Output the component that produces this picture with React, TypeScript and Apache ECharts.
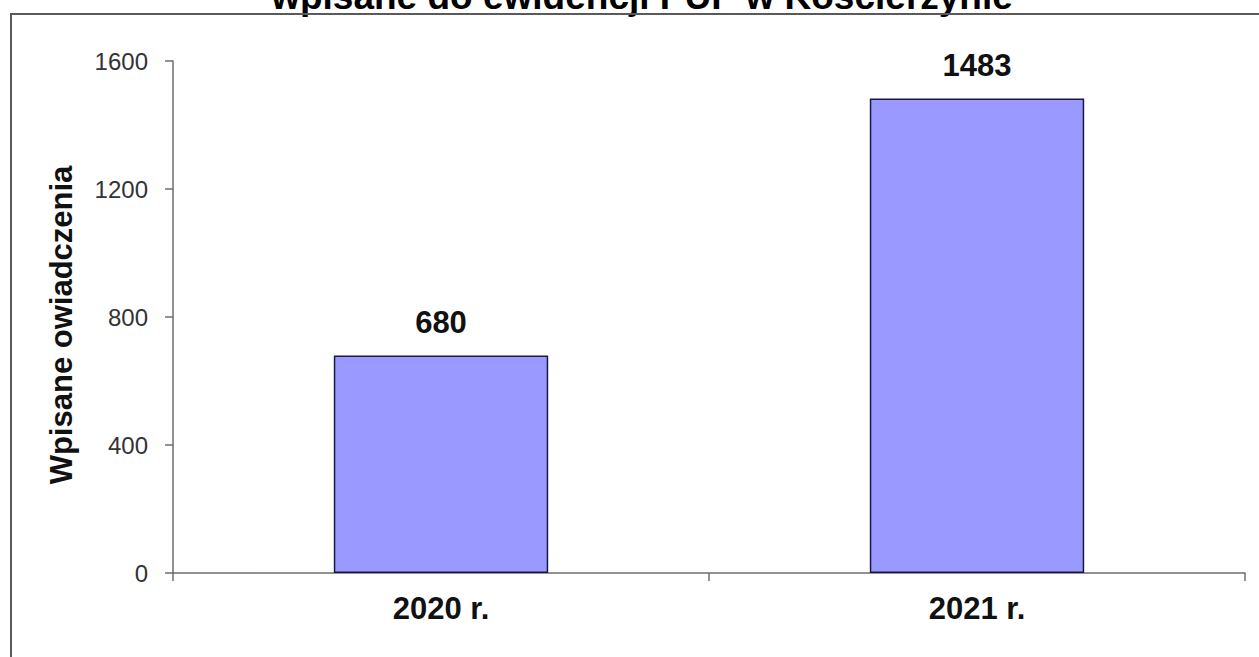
import React, { useEffect, useRef } from "react";
import * as echarts from "echarts";

const categories = ["2020 r.", "2021 r."];
const values = [680, 1483];
const yTicks = { min: 0, max: 1600, interval: 400 };
const titleText = "wpisane do ewidencji PUP w Kościerzynie";
const yAxisName = "Wpisane owiadczenia";

export default function App() {
  const ref = useRef<HTMLDivElement>(null);
  useEffect(() => {
    if (!ref.current) return;
    const chart = echarts.init(ref.current, null, { renderer: "svg" });
    const font = "'Liberation Sans', Arial, sans-serif";
    chart.setOption({
      animation: false,
      backgroundColor: "#ffffff",
      textStyle: { fontFamily: font },
      graphic: [
        {
          type: "rect",
          shape: { x: 11, y: 14, width: 1400, height: 800 },
          style: { fill: "none", stroke: "#5a5a5a", lineWidth: 2 },
          z: 1,
        },
        {
          type: "text",
          x: 642,
          y: -4,
          style: {
            text: titleText,
            fontFamily: font,
            fontSize: 37,
            fontWeight: "bold",
            fill: "#000",
            align: "center",
            verticalAlign: "middle",
          },
          z: 0,
        },
      ],
      grid: { left: 173, right: 14, top: 61, bottom: 84 },
      xAxis: {
        type: "category",
        data: categories,
        axisLine: { lineStyle: { color: "#6e6e6e", width: 1.5 } },
        axisTick: { show: true, length: 8, alignWithLabel: false, lineStyle: { color: "#6e6e6e", width: 1.5 } },
        axisLabel: {
          margin: 20,
          fontSize: 31,
          fontWeight: "bold",
          color: "#111",
          fontFamily: font,
        },
      },
      yAxis: {
        type: "value",
        min: yTicks.min,
        max: yTicks.max,
        interval: yTicks.interval,
        name: yAxisName,
        nameLocation: "middle",
        nameGap: 96,
        nameTextStyle: {
          fontSize: 31,
          fontWeight: "bold",
          color: "#111",
          fontFamily: font,
          padding: [0, 16, 0, 0],
        },
        axisLine: { show: true, lineStyle: { color: "#6e6e6e", width: 1.5 } },
        axisTick: { show: true, length: 8, lineStyle: { color: "#6e6e6e", width: 1.5 } },
        splitLine: { show: false },
        axisLabel: {
          margin: 25,
          fontSize: 24,
          color: "#333",
          fontFamily: font,
          formatter: (v: number) => String(v),
        },
      },
      series: [
        {
          type: "bar",
          data: values,
          barWidth: "40%",
          itemStyle: { color: "#9999ff", borderColor: "#1a1a40", borderWidth: 1.5 },
          label: {
            show: true,
            position: "top",
            distance: 17,
            fontSize: 31,
            fontWeight: "bold",
            color: "#111",
            fontFamily: font,
          },
        },
      ],
    });
    return () => chart.dispose();
  }, []);
  return (
    <div
      ref={ref}
      style={{ position: "fixed", left: 0, top: 0, width: 1259, height: 657 }}
    />
  );
}
